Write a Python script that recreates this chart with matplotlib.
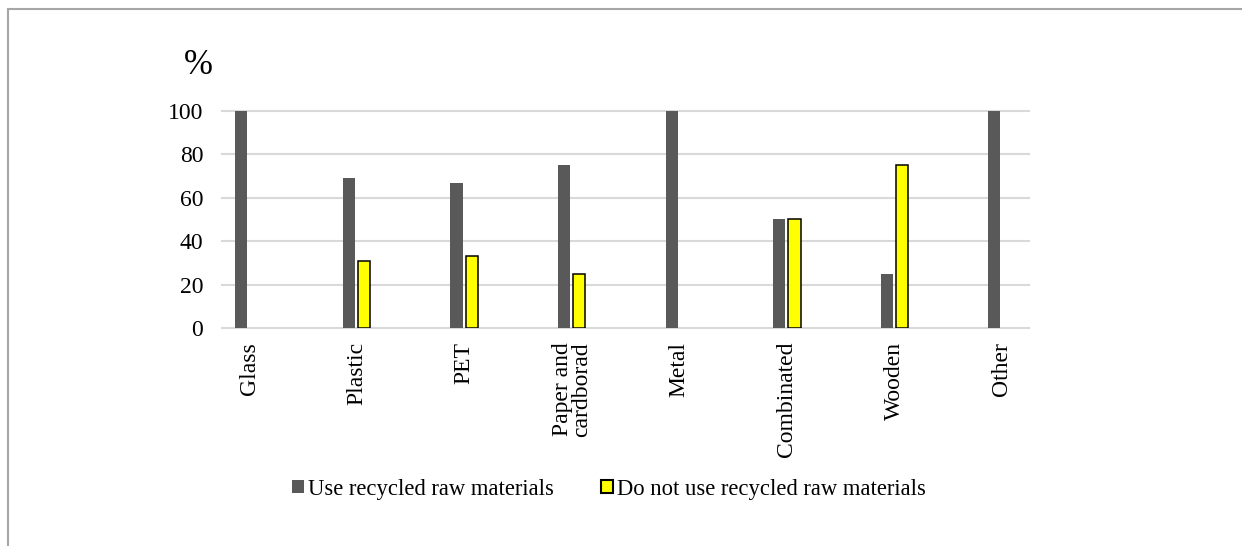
import matplotlib
matplotlib.use("Agg")
import matplotlib.pyplot as plt
from matplotlib.patches import Rectangle
import numpy as np

categories = ["Glass", "Plastic", "PET", "Paper and\ncardborad", "Metal", "Combinated", "Wooden", "Other"]
use_recycled = [100, 69, 67, 75, 100, 50, 25, 100]
not_use_recycled = [0, 31, 33, 25, 0, 50, 75, 0]
series_names = ["Use recycled raw materials", "Do not use recycled raw materials"]
y_ticks = [0, 20, 40, 60, 80, 100]

plt.rcParams['font.family'] = ['Liberation Serif', 'DejaVu Serif']

W, H = 1242, 546
fig = plt.figure(figsize=(W / 100, H / 100), dpi=100)

# outer border (top and left visible)
fig.add_artist(Rectangle((8 / W, -0.1), 1.2, 1 - 9 / H + 0.1, transform=fig.transFigure,
                         fill=False, edgecolor="#A6A6A6", linewidth=1.5))

ax = fig.add_axes([222 / W, 1 - 328 / H, (1029 - 222) / W, (328 - 111) / H])

x = np.arange(len(categories))
bw = 0.112
off = 0.071
h1 = ax.bar(x - off, use_recycled, width=bw, color="#595959", zorder=3)
h2 = ax.bar(x + off, not_use_recycled, width=bw, color="#FFFF00", edgecolor="black",
            linewidth=1.1, zorder=3)
for b, v in zip(h2, not_use_recycled):
    if v == 0:
        b.set_linewidth(0)

for t in y_ticks:
    ax.axhline(t, color="#D9D9D9", linewidth=1.5, zorder=1, clip_on=False)

ax.set_xlim(-0.251, 7.251)
ax.set_ylim(0, 100)
ax.set_yticks(y_ticks)
ax.set_xticks(x)
ax.set_xticklabels(categories, rotation=90, va="top", ha="center", linespacing=0.9)
ax.tick_params(axis="both", length=0, labelsize=17)
ax.tick_params(axis="y", pad=13.5)
ax.tick_params(axis="x", pad=10)
for s in ax.spines.values():
    s.set_visible(False)

fig.text(198 / W, 1 - 65 / H, "%", fontsize=25, ha="center", va="center")

leg_handles = [Rectangle((0, 0), 1, 1, facecolor="#595959", edgecolor="none"),
               Rectangle((0, 0), 1, 1, facecolor="#FFFF00", edgecolor="black", linewidth=1.5)]
ax.legend(leg_handles, series_names, loc="center", bbox_to_anchor=(608.5 / W, 1 - 489 / H),
          bbox_transform=fig.transFigure, ncol=2, frameon=False, fontsize=16.3,
          handlelength=0.53, handleheight=0.53, handletextpad=0.18, columnspacing=2.08,
          borderpad=0)

fig.savefig("out.png", dpi=100)
